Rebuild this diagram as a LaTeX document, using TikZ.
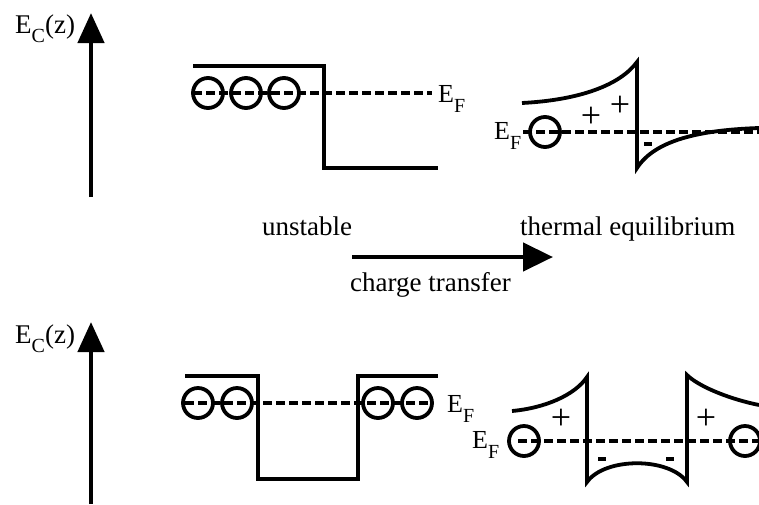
\documentclass[tikz,border=0pt]{standalone}
\usepackage{fontspec}
\setmainfont{Liberation Serif}
\usetikzlibrary{arrows.meta}
\newcommand\lowsubF[1]{\raisebox{-10pt}{\fontsize{20}{20}\selectfont #1}}
\newcommand\lowsubC[1]{\raisebox{-9pt}{\fontsize{20}{20}\selectfont #1}}
\tikzset{
  band/.style={line width=3.8pt, line join=miter},
  dashline/.style={line width=3.8pt, dash pattern=on 9pt off 4pt},
  electron/.style={line width=3.8pt},
  axis/.style={line width=4.5pt, -{Triangle[length=30pt,width=26pt]}},
  transfer/.style={line width=4.5pt, -{Triangle[length=30pt,width=28pt]}},
  lbl/.style={inner sep=0pt, font=\fontsize{27}{27}\selectfont},
  eflbl/.style={inner sep=0pt, font=\fontsize{26}{26}\selectfont, anchor=base west},
  plus/.style={inner sep=0pt, font=\fontsize{36}{36}\selectfont},
  minus/.style={line width=3.6pt}
}
\begin{document}
\begin{tikzpicture}[x=1pt,y=-1pt]
\useasboundingbox (0,0) rectangle (759,504);

% ---------- top panel ----------
\coordinate (ax1b) at (91,197);
\coordinate (ax1t) at (91,13);
\draw[axis] (ax1b) -- (ax1t);
\node[lbl, anchor=base west] (ec1) at (15,33) {E\lowsubC{C}(z)};

% unstable band
\draw[band] (193,66) -- (324,66) -- (324,168) -- (438,168);
\draw[dashline] (193,93) -- (432,93);
\foreach \cx in {208,246,284} \draw[electron] (\cx,93) circle (15);
\node[eflbl] (ef1) at (438,102) {E\lowsubF{F}};

% equilibrium band
\draw[band] (522,103) .. controls (580,100) and (620,85) .. (637,62) -- (637,168) .. controls (655,140) and (700,130) .. (759,128);
\draw[dashline] (523,132) -- (759,132);
\draw[electron] (545,132) circle (15);
\node[eflbl] (ef2) at (494,139) {E\lowsubF{F}};
\node[plus] (p1) at (591,117) {+};
\node[plus] (p2) at (620,106) {+};
\draw[minus] (644,144) -- (652,144);

% middle labels
\node[lbl, anchor=base west] (unst) at (262,235) {unstable};
\node[lbl, anchor=base west] (therm) at (520,235) {thermal equilibrium};
\coordinate (ctA) at (352,257);
\coordinate (ctB) at (553,257);
\draw[transfer] (ctA) -- (ctB);
\node[lbl, anchor=base west] (ct) at (350,291) {charge transfer};

% ---------- bottom panel ----------
\coordinate (ax2b) at (91,504);
\coordinate (ax2t) at (91,322);
\draw[axis] (ax2b) -- (ax2t);
\node[lbl, anchor=base west] (ec2) at (15,343) {E\lowsubC{C}(z)};

% unstable double band
\draw[band] (185,376) -- (258,376) -- (258,479) -- (358,479) -- (358,376) -- (438,376);
\draw[dashline] (185,403) -- (430,403);
\foreach \cx in {198,237,378,417} \draw[electron] (\cx,403) circle (15);
\node[eflbl] (ef3) at (447,412) {E\lowsubF{F}};

% equilibrium double band
\draw[band] (512,411) .. controls (545,408) and (575,395) .. (587,377) -- (587,482)
  .. controls (605,457) and (669,457) .. (687,482) -- (687,375)
  .. controls (697,385) and (725,398) .. (759,405);
\draw[dashline] (518,441) -- (759,441);
\draw[electron] (524,441) circle (15);
\draw[electron] (745,441) circle (15);
\node[eflbl] (ef4) at (472,448) {E\lowsubF{F}};
\node[plus] (p3) at (561,419) {+};
\node[plus] (p4) at (706,419) {+};
\draw[minus] (598,459) -- (606,459);
\draw[minus] (666,459) -- (674,459);
\end{tikzpicture}
\end{document}
